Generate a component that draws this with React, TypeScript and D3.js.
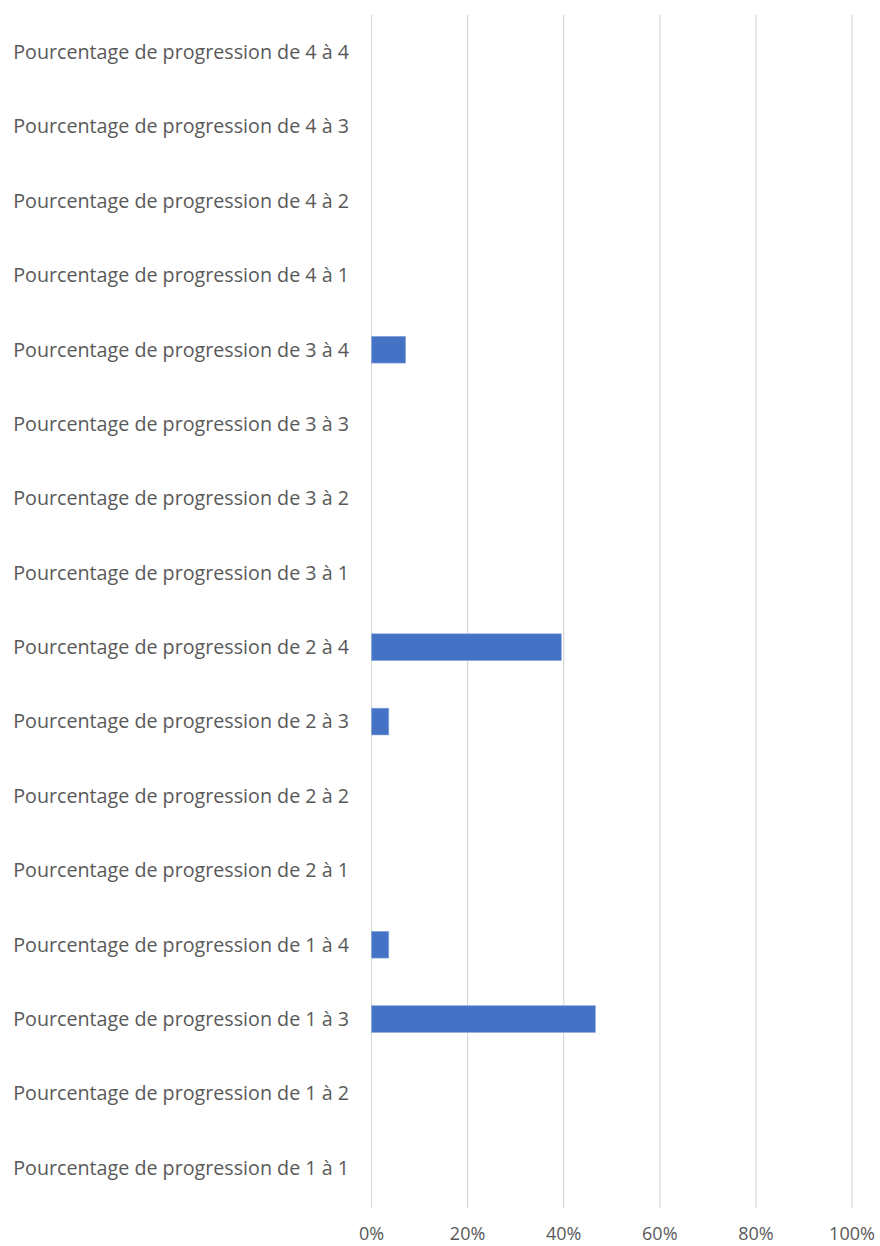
import {scaleBand, scaleLinear} from "d3";

const CATEGORIES = [
  "Pourcentage de progression de 4 à 4",
  "Pourcentage de progression de 4 à 3",
  "Pourcentage de progression de 4 à 2",
  "Pourcentage de progression de 4 à 1",
  "Pourcentage de progression de 3 à 4",
  "Pourcentage de progression de 3 à 3",
  "Pourcentage de progression de 3 à 2",
  "Pourcentage de progression de 3 à 1",
  "Pourcentage de progression de 2 à 4",
  "Pourcentage de progression de 2 à 3",
  "Pourcentage de progression de 2 à 2",
  "Pourcentage de progression de 2 à 1",
  "Pourcentage de progression de 1 à 4",
  "Pourcentage de progression de 1 à 3",
  "Pourcentage de progression de 1 à 2",
  "Pourcentage de progression de 1 à 1"
];

const VALUES = [0, 0, 0, 0, 0.071, 0, 0, 0, 0.395, 0.036, 0, 0, 0.036, 0.466, 0, 0];

const X_TICKS = [0, 0.2, 0.4, 0.6, 0.8, 1];

const WIDTH = 880;
const HEIGHT = 1246;
const FONT = "'Open Sans', 'Noto Sans', sans-serif";
const TEXT_COLOR = "#595959";

export default function App() {
  const x = scaleLinear().domain([0, 1]).range([371.5, 852]);
  const y = scaleBand<string>()
    .domain(CATEGORIES)
    .range([15, 1205])
    .paddingInner(0.64)
    .paddingOuter(0.32);

  const plotBottom = 1208;

  return (
    <svg
      width={WIDTH}
      height={HEIGHT}
      viewBox={`0 0 ${WIDTH} ${HEIGHT}`}
      style={{position: "absolute", left: 0, top: 0, display: "block", background: "#fff"}}
    >
      {X_TICKS.map((tick) => (
        <g key={`grid-${tick}`}>
          <line x1={x(tick)} x2={x(tick)} y1={15} y2={plotBottom} stroke="#d9d9d9" strokeWidth={1.2} />
          <text
            x={x(tick)}
            y={1240}
            textAnchor="middle"
            fontFamily={FONT}
            fontSize={18}
            fill={TEXT_COLOR}
          >
            {`${Math.round(tick * 100)}%`}
          </text>
        </g>
      ))}

      {CATEGORIES.map((category, index) => {
        const top = y(category) ?? 0;
        const center = top + y.bandwidth() / 2;
        return (
          <g key={category}>
            <text
              x={349}
              y={center}
              dy="0.35em"
              textAnchor="end"
              fontFamily={FONT}
              fontSize={19.7}
              fill={TEXT_COLOR}
            >
              {category}
            </text>
            {VALUES[index] > 0 ? (
              <rect
                x={x(0)}
                y={top}
                width={x(VALUES[index]) - x(0)}
                height={y.bandwidth()}
                fill="#4472c4"
                stroke="#8eaadb"
                strokeWidth={0.6}
              />
            ) : null}
          </g>
        );
      })}
    </svg>
  );
}
